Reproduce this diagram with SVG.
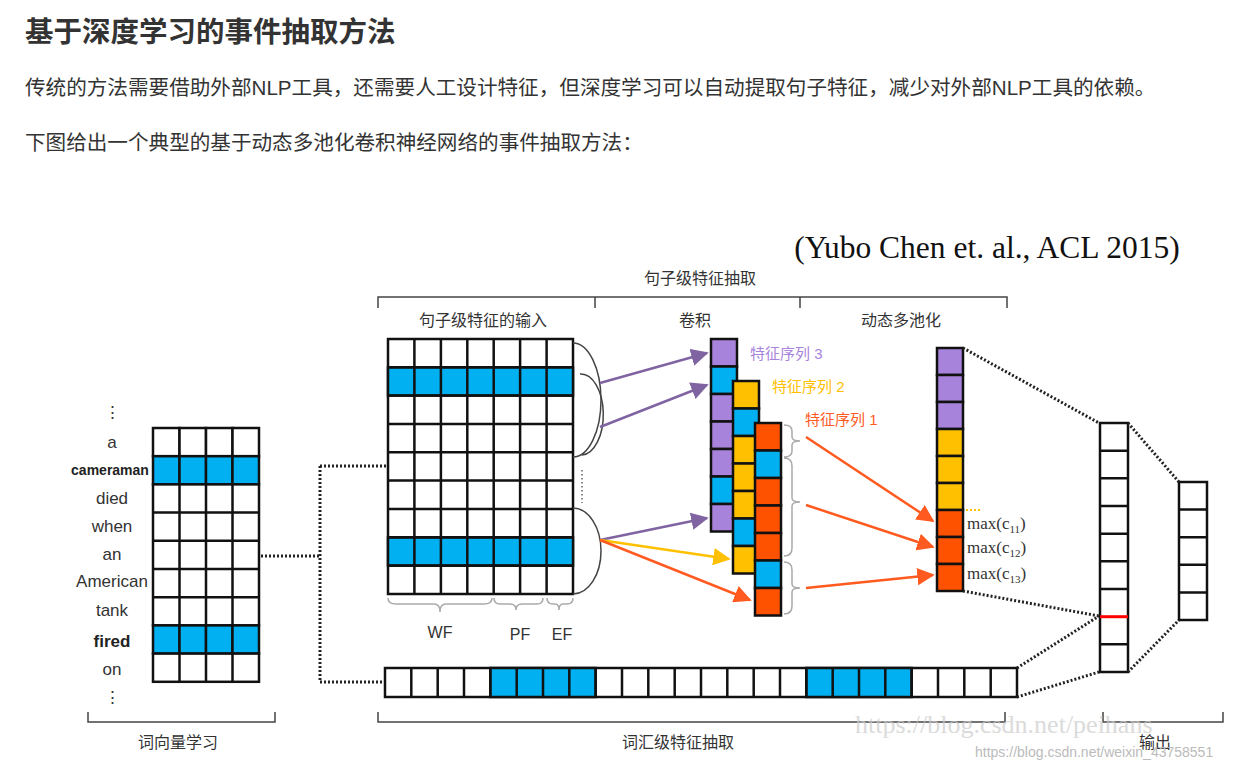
<svg xmlns="http://www.w3.org/2000/svg" width="1254" height="769" viewBox="0 0 1254 769">
<style>
.c{stroke:#111;stroke-width:2.5}
.w{fill:#fff}.b{fill:#00b0f0}.p{fill:#a883dc}.y{fill:#ffc000}.r{fill:#ff5200}
.t{font-family:"Liberation Sans","Noto Sans CJK SC",sans-serif;fill:#333}
.dot{fill:none;stroke:#222;stroke-width:3;stroke-dasharray:2 2}
.br{fill:none;stroke:#444;stroke-width:1.5}
.gb{fill:none;stroke:#aaa;stroke-width:1.5}
</style>
<defs>
<marker id="ap" viewBox="0 0 10 10" refX="9" refY="5" markerWidth="7" markerHeight="7" orient="auto"><path d="M0,0L10,5L0,10z" fill="#8064a2"/></marker>
<marker id="ay" viewBox="0 0 10 10" refX="9" refY="5" markerWidth="7" markerHeight="7" orient="auto"><path d="M0,0L10,5L0,10z" fill="#ffc000"/></marker>
<marker id="ar" viewBox="0 0 10 10" refX="9" refY="5" markerWidth="7" markerHeight="7" orient="auto"><path d="M0,0L10,5L0,10z" fill="#ff5a1f"/></marker>
</defs>
<rect width="1254" height="769" fill="#fff"/>
<text class="t" x="25" y="42" font-size="28.5" font-weight="bold">基于深度学习的事件抽取方法</text>
<text class="t" x="25" y="95" font-size="20.6">传统的方法需要借助外部NLP工具，还需要人工设计特征，但深度学习可以自动提取句子特征，减少对外部NLP工具的依赖。</text>
<text class="t" x="25" y="150" font-size="20.6">下图给出一个典型的基于动态多池化卷积神经网络的事件抽取方法：</text>
<text x="987" y="258" font-size="31.5" text-anchor="middle" font-family="Liberation Serif,serif" fill="#111">(Yubo Chen et. al., ACL 2015)</text>

<g id="headers" class="t" font-size="16" text-anchor="middle">
<text x="700" y="284">句子级特征抽取</text>
<text x="483" y="326">句子级特征的输入</text>
<text x="695" y="326">卷积</text>
<text x="901" y="326">动态多池化</text>
<text x="440" y="638">WF</text><text x="520" y="640">PF</text><text x="562" y="640">EF</text>
<text x="178" y="748">词向量学习</text>
<text x="678" y="748">词汇级特征抽取</text>
<text x="1155" y="748">输出</text>
</g>
<g id="brackets">
<path class="br" d="M378,308V297H1007V308M595,297V308M800,297V308"/>
<path class="br" d="M88,712V722H275V712M378,712V722H1005V712M1103,712V722H1223V712"/>
<path class="gb" d="M388,598q0,6 8,6h38q6,0 6,8q0,-8 6,-8h38q8,0 8,-6M494,598q0,6 6,6h10q6,0 6,6q0,-6 6,-6h15q6,0 6,-6M547,598q0,6 6,6h2q4,0 4,6q0,-6 4,-6h4q6,0 6,-6"/>
<path class="gb" d="M784,425q8,0 8,6v6q0,4 8,4q-8,0 -8,4v6q0,6 -8,6M784,458q8,0 8,8v32q0,4 8,4q-8,0 -8,4v42q0,8 -8,8M784,562q8,0 8,8v14q0,4 8,4q-8,0 -8,4v14q0,8 -8,8"/>
</g>

<g id="words" class="t" font-size="17" text-anchor="middle">
<text x="112" y="418">⋮</text>
<text x="112" y="448">a</text>
<text x="110" y="475" font-size="14" font-weight="bold" fill="#222">cameraman</text>
<text x="112" y="504">died</text>
<text x="112" y="532">when</text>
<text x="112" y="560">an</text>
<text x="112" y="587">American</text>
<text x="112" y="616">tank</text>
<text x="112" y="647" font-weight="bold" fill="#222">fired</text>
<text x="112" y="675">on</text>
<text x="112" y="703">⋮</text>
</g>

<g id="word-matrix" class="c">
<g class="w"><rect x="153" y="428" width="26.5" height="28.2"/><rect x="179.5" y="428" width="26.5" height="28.2"/><rect x="206" y="428" width="26.5" height="28.2"/><rect x="232.5" y="428" width="26.5" height="28.2"/></g>
<g class="b"><rect x="153" y="456.2" width="26.5" height="28.2"/><rect x="179.5" y="456.2" width="26.5" height="28.2"/><rect x="206" y="456.2" width="26.5" height="28.2"/><rect x="232.5" y="456.2" width="26.5" height="28.2"/></g>
<g class="w">
<rect x="153" y="484.4" width="106" height="141"/>
<path d="M179.5,484.4V625.4M206,484.4V625.4M232.5,484.4V625.4M153,512.6H259M153,540.8H259M153,569H259M153,597.2H259" fill="none"/>
</g>
<g class="b"><rect x="153" y="625.4" width="26.5" height="28.2"/><rect x="179.5" y="625.4" width="26.5" height="28.2"/><rect x="206" y="625.4" width="26.5" height="28.2"/><rect x="232.5" y="625.4" width="26.5" height="28.2"/></g>
<g class="w"><rect x="153" y="653.6" width="106" height="28.2"/><path d="M179.5,653.6V681.8M206,653.6V681.8M232.5,653.6V681.8" fill="none"/></g>
</g>

<g id="sentence-matrix" class="c">
<rect x="388" y="339" width="185" height="255" class="w"/>
<rect x="388" y="367.3" width="185" height="28.3" class="b"/>
<rect x="388" y="537.4" width="185" height="28.3" class="b"/>
<path fill="none" d="M414.4,339V594M440.9,339V594M467.3,339V594M493.7,339V594M520.1,339V594M546.6,339V594M388,367.3H573M388,395.6H573M388,424H573M388,452.3H573M388,480.6H573M388,509H573M388,537.3H573M388,565.6H573"/>
</g>
<g id="arcs" fill="none" stroke="#444" stroke-width="1.5">
<path d="M573,343A28,57 0 0 1 573,457"/>
<path d="M580,374A22,40 0 0 1 582,455"/>
<path d="M573,508A28,43 0 0 1 573,594"/>
<path d="M582,470V503" stroke-dasharray="1.5 2.5" stroke="#666"/>
</g>

<g id="col3" class="c">
<rect x="711" y="339" width="26" height="27.5" class="p"/><rect x="711" y="366.5" width="26" height="27.5" class="b"/><rect x="711" y="394" width="26" height="27.5" class="p"/><rect x="711" y="421.5" width="26" height="27.5" class="p"/><rect x="711" y="449" width="26" height="27.5" class="p"/><rect x="711" y="476.5" width="26" height="27.5" class="b"/><rect x="711" y="504" width="26" height="27.5" class="p"/>
</g>
<g id="col2" class="c">
<rect x="733" y="381" width="26" height="27.5" class="y"/><rect x="733" y="408.5" width="26" height="27.5" class="b"/><rect x="733" y="436" width="26" height="27.5" class="y"/><rect x="733" y="463.5" width="26" height="27.5" class="y"/><rect x="733" y="491" width="26" height="27.5" class="y"/><rect x="733" y="518.5" width="26" height="27.5" class="b"/><rect x="733" y="546" width="26" height="27.5" class="y"/>
</g>
<g id="col1" class="c">
<rect x="755" y="423" width="26" height="27.5" class="r"/><rect x="755" y="450.5" width="26" height="27.5" class="b"/><rect x="755" y="478" width="26" height="27.5" class="r"/><rect x="755" y="505.5" width="26" height="27.5" class="r"/><rect x="755" y="533" width="26" height="27.5" class="r"/><rect x="755" y="560.5" width="26" height="27.5" class="b"/><rect x="755" y="588" width="26" height="27.5" class="r"/>
</g>
<g id="feature-labels" font-family="Liberation Sans,Noto Sans CJK SC,sans-serif" font-size="15">
<text x="750" y="359" fill="#a883dc">特征序列 3</text>
<text x="772" y="392" fill="#ffc000">特征序列 2</text>
<text x="805" y="425" fill="#ff5a1f">特征序列 1</text>
</g>

<g id="pooled" class="c">
<rect x="937" y="348" width="26" height="27" class="p"/><rect x="937" y="375" width="26" height="27" class="p"/><rect x="937" y="402" width="26" height="27" class="p"/>
<rect x="937" y="429" width="26" height="27" class="y"/><rect x="937" y="456" width="26" height="27" class="y"/><rect x="937" y="483" width="26" height="27" class="y"/>
<rect x="937" y="510" width="26" height="27" class="r"/><rect x="937" y="537" width="26" height="27" class="r"/><rect x="937" y="564" width="26" height="27" class="r"/>
</g>
<path d="M966,510H981" stroke="#ffc000" stroke-width="2" stroke-dasharray="2 2"/>
<g id="max-labels" font-family="Liberation Serif,serif" font-size="17" fill="#333">
<text x="967" y="529">max(c<tspan font-size="11" dy="4">11</tspan><tspan dy="-4">)</tspan></text>
<text x="967" y="553">max(c<tspan font-size="11" dy="4">12</tspan><tspan dy="-4">)</tspan></text>
<text x="967" y="579">max(c<tspan font-size="11" dy="4">13</tspan><tspan dy="-4">)</tspan></text>
</g>

<g id="output1" class="c w">
<rect x="1100" y="423" width="28" height="249"/>
<path fill="none" d="M1100,450.7H1128M1100,478.3H1128M1100,506H1128M1100,533.7H1128M1100,561.3H1128M1100,589H1128M1100,644.3H1128"/>
<path d="M1100,616.7H1128" stroke="#f00" stroke-width="3"/>
</g>
<g id="output2" class="c w">
<rect x="1179" y="482" width="28" height="138"/>
<path fill="none" d="M1179,509.6H1207M1179,537.2H1207M1179,564.8H1207M1179,592.4H1207"/>
</g>

<g id="lexical-row" class="c">
<rect x="385" y="668" width="632" height="29" class="w"/>
<rect x="490.3" y="668" width="105.3" height="29" class="b"/>
<rect x="806.3" y="668" width="105.3" height="29" class="b"/>
<path fill="none" d="M411.3,668v29M437.7,668v29M464,668v29M490.3,668v29M516.7,668v29M543,668v29M569.3,668v29M595.7,668v29M622,668v29M648.3,668v29M674.7,668v29M701,668v29M727.3,668v29M753.7,668v29M780,668v29M806.3,668v29M832.7,668v29M859,668v29M885.3,668v29M911.7,668v29M938,668v29M964.3,668v29M990.7,668v29"/>
</g>

<g id="connectors">
<path class="dot" d="M261,556H320M320,466V682M320,466H386M320,682H383"/>
<path class="dot" d="M963,348L1099,423M963,591L1099,616M1017,668L1099,616M1017,697L1099,672M1128,423L1179,482M1128,672L1179,620"/>
<g fill="none" stroke-width="2.5">
<path d="M600,383L707,353" stroke="#8064a2" marker-end="url(#ap)"/>
<path d="M600,427L707,385" stroke="#8064a2" marker-end="url(#ap)"/>
<path d="M600,540L707,518" stroke="#8064a2" marker-end="url(#ap)"/>
<path d="M600,540L729,559" stroke="#ffc000" marker-end="url(#ay)"/>
<path d="M600,540L750,600" stroke="#ff5a1f" marker-end="url(#ar)"/>
<path d="M806,437L933,521" stroke="#ff5a1f" marker-end="url(#ar)"/>
<path d="M806,505L933,547" stroke="#ff5a1f" marker-end="url(#ar)"/>
<path d="M806,588L933,575" stroke="#ff5a1f" marker-end="url(#ar)"/>
</g>
</g>
<text x="855" y="733" font-family="Liberation Serif,serif" font-size="26" fill="#ccc" opacity="0.7">https://blog.csdn.net/peihans</text>
<text x="975" y="757" font-family="Liberation Sans,sans-serif" font-size="14" fill="#bbb">https://blog.csdn.net/weixin_43758551</text>
</svg>
